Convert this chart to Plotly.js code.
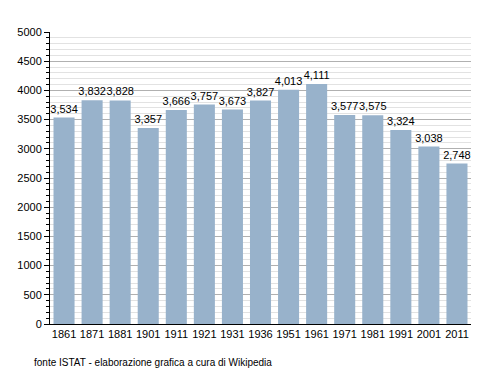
<!DOCTYPE html>
<html><head><meta charset="utf-8">
<script src="https://cdn.plot.ly/plotly-3.0.1.min.js"></script>
<style>body{margin:0;padding:0;background:#fff}#chart{width:500px;height:373px}</style>
</head><body><div id="chart"></div>
<script>
const years = ["1861","1871","1881","1901","1911","1921","1931","1936","1951","1961","1971","1981","1991","2001","2011"];
const population = [3534,3832,3828,3357,3666,3757,3673,3827,4013,4111,3577,3575,3324,3038,2748];
const labels = population.map(v => v.toLocaleString('en-US'));

Plotly.newPlot('chart', [{
  type: 'bar', x: years, y: population,
  text: labels, textposition: 'outside', cliponaxis: false, constraintext: 'none',
  textfont: {family: 'Liberation Sans, Arial, sans-serif', size: 11, color: '#000'},
  marker: {color: '#98b2cb'}, hoverinfo: 'none'
}], {
  width: 500, height: 373,
  margin: {l: 50, r: 29, t: 32, b: 49},
  paper_bgcolor: '#fff', plot_bgcolor: '#fff',
  bargap: 0.25, showlegend: false,
  font: {family: 'Liberation Sans, Arial, sans-serif', size: 11, color: '#000'},
  xaxis: {type: 'category', showline: true, linecolor: '#000', linewidth: 1, ticks: '', showgrid: false, tickfont: {size: 11}},
  yaxis: {range: [0, 5000], dtick: 500, tick0: 0, showline: true, linecolor: '#000', linewidth: 1,
    ticks: 'outside', ticklen: 5, tickcolor: '#000', gridcolor: '#b0b0b0', gridwidth: 1, zeroline: false,
    tickfont: {size: 11},
    minor: {dtick: 100, showgrid: true, gridcolor: '#e2e2e2', ticks: 'outside', ticklen: 3, tickcolor: '#000'}},
  annotations: [{text: 'fonte ISTAT - elaborazione grafica a cura di Wikipedia', xref: 'paper', yref: 'paper',
    x: -0.043, y: -0.105, xanchor: 'left', yanchor: 'top', showarrow: false, font: {size: 10}}]
}, {displayModeBar: false, staticPlot: true});
</script></body></html>
